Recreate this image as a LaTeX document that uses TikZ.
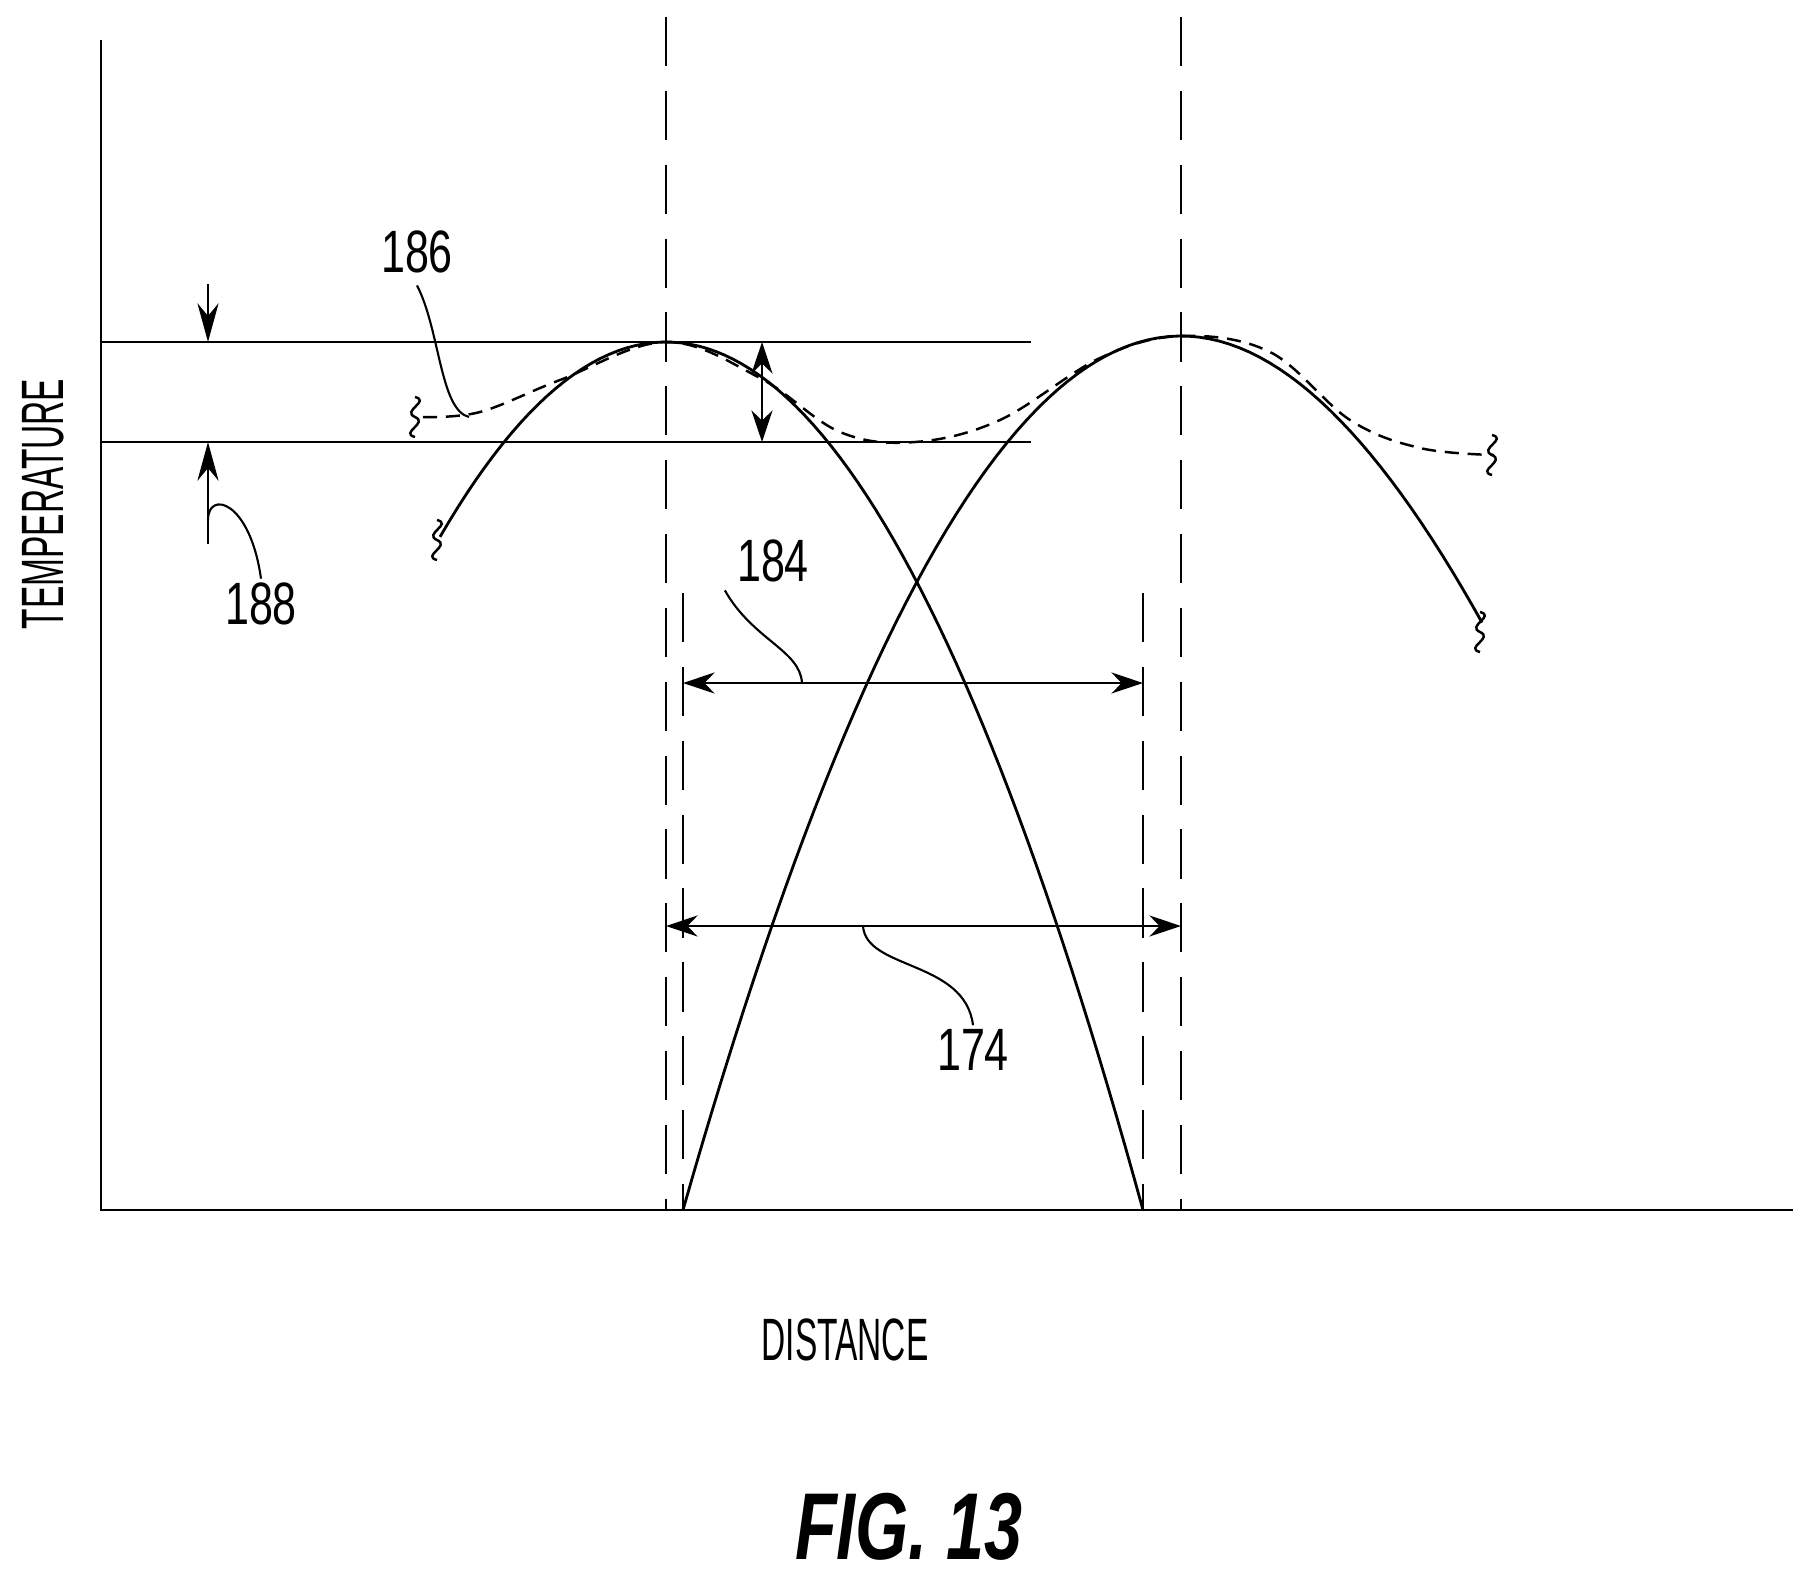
\documentclass[tikz,border=0pt]{standalone}
\usepackage{fontspec}
\setmainfont{Liberation Sans}
\usetikzlibrary{positioning,arrows.meta}
\tikzset{
  lbl/.style={font=\fontsize{17}{19}\selectfont, inner sep=1pt},
  guide/.style={dash pattern=on 14pt off 7pt, line width=0.6pt},
  curve/.style={line width=0.8pt},
  dim/.style={line width=0.8pt, {Stealth[length=9pt,width=6pt]}-{Stealth[length=9pt,width=6pt]}},
  lead/.style={line width=0.6pt}
}
\newcommand{\cond}[1]{\scalebox{0.72}[1]{#1}}
\newcommand{\narrow}[1]{\scalebox{0.56}[1]{#1}}
\newcommand{\squig}[1]{\draw[line width=0.7pt] (#1) ++(-8,-20) .. controls +(16,4) and +(-14,-6) .. ++(0,20) .. controls +(14,6) and +(-16,-4) .. ++(0,20);}
\begin{document}
\begin{tikzpicture}[x=0.01cm,y=-0.01cm, >=Stealth]
\useasboundingbox (0,0) rectangle (1815,1584);
% axes
\coordinate (o) at (101,1210);
\coordinate (ytop) at (101,40);
\coordinate (xend) at (1793,1210);
\draw[line width=0.8pt] (ytop) -- (o) -- (xend);
% guides
\draw[guide] (666,17) -- (666,1210);
\draw[guide] (1181,17) -- (1181,1210);
\draw[guide] (683,593) -- (683,1210);
\draw[guide] (1143,593) -- (1143,1210);
% band
\draw[line width=0.6pt] (101,342) -- (1031,342);
\draw[line width=0.6pt] (101,442) -- (1031,442);
% curves
\draw[curve] plot[domain=4.40:11.43,samples=80] ({100*\x},{342+38.15*(\x-6.66)^2});
\draw[curve] plot[domain=6.83:14.82,samples=80] ({100*\x},{336+35.24*(\x-11.81)^2-1.2*max(\x-11.81,0)^3});
\draw[line width=0.7pt, dash pattern=on 4pt off 2.5pt] plot[smooth,tension=0.6] coordinates {(423,417) (480,412) (560,380) (666,342) (760,378) (840,432) (915,442) (1000,420) (1100,358) (1181,336) (1270,352) (1350,420) (1420,448) (1494,455)};
\squig{423,417}
\squig{1500,455}
\squig{445,540}
\squig{1488,632}
% dimensions
\draw[-{Stealth[length=11pt,width=6pt]}, line width=0.8pt] (208,284) -- (208,342);
\draw[-{Stealth[length=11pt,width=6pt]}, line width=0.8pt] (208,544) -- (208,442);
\draw[dim] (762,342) -- (762,442);
\draw[dim] (683,683) -- (1143,683);
\draw[dim] (666,926) -- (1181,926);
% labels
\node[lbl] (n186) at (417,252) {\cond{186}};
\node[lbl] (n188) at (261,604) {\cond{188}};
\node[lbl] (n184) at (773,561) {\cond{184}};
\node[lbl] (n174) at (973,1050) {\cond{174}};
\draw[lead] (n186.south) ++(0,8) .. controls (440,330) and (440,410) .. (469,417);
\draw[lead] (208,520) .. controls (208,490) and (250,500) .. (n188.north);
\draw[lead] (n184.south west) ++(-8,4) .. controls (753,640) and (800,650) .. (802,683);
\draw[lead] (863,926) .. controls (866,970) and (965,960) .. (n174.north);
\node[lbl, rotate=90] (ty) at (43,504) {\narrow{TEMPERATURE}};
\node[lbl] (tx) at (845,1340) {\narrow{DISTANCE}};
\node[font=\fontsize{27}{30}\selectfont\bfseries\itshape] (fig) at (909,1527) {\scalebox{0.72}[1]{FIG. 13}};
\end{tikzpicture}
\end{document}
